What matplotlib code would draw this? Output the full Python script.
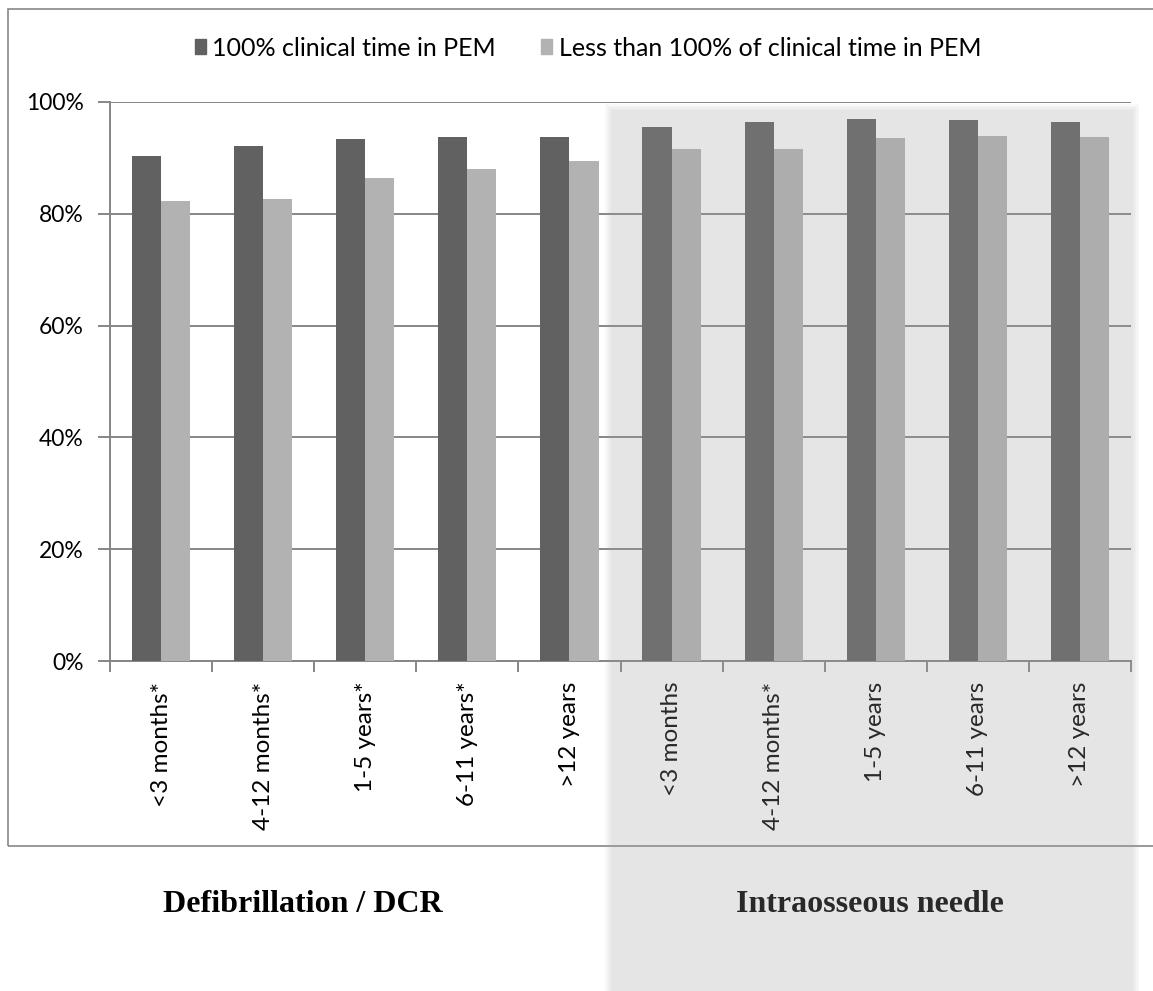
import matplotlib
matplotlib.use("Agg")
import matplotlib.pyplot as plt
from matplotlib.patches import Rectangle, Patch
from matplotlib.ticker import FixedLocator, FuncFormatter

plt.rcParams['font.family'] = ['Lato', 'DejaVu Sans']

# age groups, first five = defibrillation / DCR, last five = intraosseous needle
age_groups = ['<3 months*', '4-12 months*', '1-5 years*', '6-11 years*', '>12 years',
              '<3 months', '4-12 months*', '1-5 years', '6-11 years', '>12 years']
full_time = [90.3, 92.2, 93.3, 93.8, 93.8, 95.6, 96.5, 96.9, 96.8, 96.4]
part_time = [82.3, 82.7, 86.4, 88.1, 89.4, 91.6, 91.6, 93.6, 93.9, 93.7]
series_names = ['100% clinical time in PEM', 'Less than 100% of clinical time in PEM']
group_names = ['Defibrillation / DCR', 'Intraosseous needle']

W, H = 1153, 991
fig = plt.figure(figsize=(W / 100, H / 100), dpi=100)


def fx(px):
    return px / W


def fy(py):
    return 1 - py / H


ax = fig.add_axes([fx(110), fy(661), fx(1131) - fx(110), fy(102) - fy(661)])

grid_col = '#868686'
dark = '#616161'
light = '#b2b2b2'
bw = 0.285

x = list(range(len(age_groups)))
ax.bar([i - bw / 2 for i in x], full_time, width=bw, color=dark, zorder=3)
ax.bar([i + bw / 2 for i in x], part_time, width=bw, color=light, zorder=3)

ax.set_xlim(-0.5, len(age_groups) - 0.5)
ax.set_ylim(0, 100)

ax.set_yticks([0, 20, 40, 60, 80, 100])
ax.yaxis.set_major_formatter(FuncFormatter(lambda v, p: f"{v:.0f}%"))
ax.yaxis.grid(True, color=grid_col, linewidth=1.4, zorder=0)
ax.set_axisbelow(True)

# ticks on the category boundaries, labels in the middle
ax.xaxis.set_major_locator(FixedLocator([i - 0.5 for i in range(len(age_groups) + 1)]))
ax.xaxis.set_major_formatter(FuncFormatter(lambda v, p: ''))
ax.xaxis.set_minor_locator(FixedLocator(x))
ax.set_xticklabels(age_groups, minor=True, rotation=90, fontsize=17.5)
ax.tick_params(axis='x', which='major', length=8, width=1.4, color=grid_col, direction='out')
ax.tick_params(axis='x', which='minor', length=0, pad=15)
ax.tick_params(axis='y', length=9, width=1.4, color=grid_col, labelsize=16.5, pad=10)

for s in ['top', 'right']:
    ax.spines[s].set_visible(False)
for s in ['left', 'bottom']:
    ax.spines[s].set_color(grid_col)
    ax.spines[s].set_linewidth(1.4)

# legend on top
handles = [Patch(color=dark), Patch(color=light)]
fig.legend(handles, series_names, loc='center', bbox_to_anchor=(fx(588), fy(48)),
           ncol=2, frameon=False, fontsize=18, handlelength=0.45, handleheight=0.55,
           handletextpad=0.25, columnspacing=1.8)

# chart frame
fig.patches.append(Rectangle((fx(8), fy(846)), fx(1170) - fx(8), fy(9) - fy(846),
                             transform=fig.transFigure, fill=False,
                             edgecolor='#888888', linewidth=1.2, zorder=1))

# group names under the frame
fig.text(fx(303), fy(905), group_names[0], ha='center', va='center',
         family='Liberation Serif', fontweight='bold', fontsize=23, color='black')
fig.text(fx(870), fy(905), group_names[1], ha='center', va='center',
         family='Liberation Serif', fontweight='bold', fontsize=23, color='black')

# translucent grey panel over the intraosseous half, soft edges
n_layers = 5
a_layer = 1 - (1 - 0.266) ** (1 / n_layers)
for k in range(n_layers):
    d = 3 - 1.5 * k
    fig.patches.append(Rectangle((fx(608 - d), fy(H + 5)), fx(1136 + d) - fx(608 - d),
                                 fy(107 - d) - fy(H + 5),
                                 transform=fig.transFigure, facecolor='#a5a5a5',
                                 edgecolor='none', alpha=a_layer, zorder=10))

fig.savefig('out.png', dpi=100)
